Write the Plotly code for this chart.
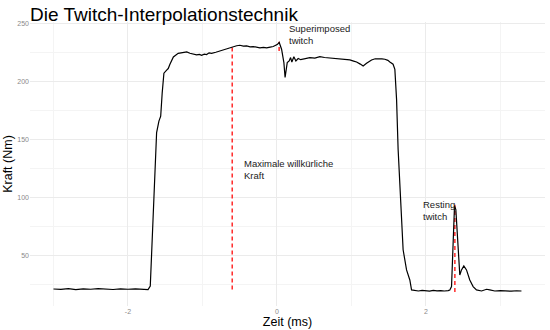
import plotly.graph_objects as go

# Torque trace of a twitch-interpolation trial
time_ms = [
    -3.00, -2.90, -2.80, -2.70, -2.60, -2.50, -2.40, -2.30, -2.20, -2.10,
    -2.00, -1.90, -1.80, -1.73, -1.70, -1.68, -1.66, -1.64, -1.615, -1.584,
    -1.56, -1.54, -1.517, -1.48, -1.459, -1.436, -1.39, -1.325, -1.258, -1.21,
    -1.168, -1.12, -1.078, -1.04, -1.011, -0.975, -0.944, -0.91, -0.877, -0.82,
    -0.765, -0.72, -0.675, -0.63, -0.586, -0.54, -0.497, -0.45, -0.407, -0.36,
    -0.318, -0.27, -0.228, -0.18, -0.138, -0.09, -0.049, 0.004, 0.031, 0.063,
    0.094, 0.110, 0.139, 0.165, 0.184, 0.201, 0.228, 0.255, 0.286, 0.32,
    0.353, 0.40, 0.443, 0.51, 0.577, 0.64, 0.711, 0.78, 0.846, 0.91,
    0.98, 1.03, 1.07, 1.12, 1.158, 1.204, 1.24, 1.271, 1.32, 1.36,
    1.41, 1.45, 1.49, 1.517, 1.56, 1.584, 1.607, 1.628, 1.66, 1.695,
    1.741, 1.785, 1.808, 1.85, 1.90, 1.95, 2.00, 2.05, 2.10, 2.15,
    2.20, 2.25, 2.30, 2.322, 2.345, 2.366, 2.385, 2.403, 2.434, 2.456,
    2.479, 2.51, 2.546, 2.59, 2.635, 2.68, 2.748, 2.79, 2.815, 2.859,
    2.926, 3.00, 3.083, 3.15, 3.22, 3.284,
]
force_nm = [
    21.5, 21.2, 21.8, 21.0, 21.6, 21.3, 21.9, 21.4, 21.1, 21.7,
    21.3, 21.6, 21.2, 21.0, 24.0, 56.0, 85.0, 112.7, 156.0, 165.8,
    170.0, 190.0, 207.0, 209.7, 211.0, 214.7, 221.0, 224.1, 224.7, 225.3,
    224.1, 223.5, 222.7, 223.2, 222.4, 223.4, 223.0, 224.5, 224.1, 225.0,
    226.1, 227.4, 228.2, 229.3, 229.9, 230.6, 231.0, 230.2, 230.4, 229.6,
    229.9, 229.0, 228.7, 229.2, 228.7, 229.4, 229.9, 231.6, 233.4, 227.6,
    216.1, 203.3, 216.1, 217.5, 220.4, 216.6, 221.2, 217.5, 219.6, 218.6,
    219.0, 219.8, 220.4, 220.0, 221.2, 220.5, 220.1, 219.4, 219.6, 218.8,
    218.4, 217.4, 216.6, 214.8, 213.2, 215.5, 217.3, 218.4, 219.4, 219.6,
    219.3, 219.0, 218.0, 216.6, 214.7, 210.3, 184.5, 141.4, 98.3, 55.2,
    37.9, 29.3, 20.7, 20.3, 19.8, 20.4, 20.0, 19.7, 20.3, 19.9,
    20.2, 19.8, 20.1, 20.7, 23.6, 63.8, 93.0, 89.7, 49.4, 33.6,
    37.9, 41.4, 37.9, 29.3, 23.6, 20.7, 19.8, 20.6, 21.3, 20.7,
    19.8, 20.1, 19.8, 19.6, 20.0, 19.8,
]

# Reference markers: time, lower and upper torque
marker_time = [-0.60, 0.03, 2.39]
marker_low = [21.0, 226.0, 19.0]
marker_high = [230.0, 234.0, 94.0]

# Text labels
label_text = ["Superimposed<br>twitch", "Maximale willkürliche<br>Kraft", "Resting<br>twitch"]
label_x = [0.13, -0.47, 1.93]
label_y = [240.0, 124.0, 89.0]

x_ticks = [-2, 0, 2]
y_ticks = [50, 100, 150, 200, 250]

fig = go.Figure()

for t, lo, hi in zip(marker_time, marker_low, marker_high):
    fig.add_trace(go.Scatter(
        x=[t, t], y=[lo, hi], mode="lines",
        line=dict(color="#ff1a1a", width=1.4, dash="4px,3px"),
        hoverinfo="skip", showlegend=False,
    ))

fig.add_trace(go.Scatter(
    x=time_ms, y=force_nm, mode="lines",
    line=dict(color="black", width=1.2),
    showlegend=False,
))

font_family = "Liberation Sans, Arial, sans-serif"

for txt, lx, ly in zip(label_text, label_x, label_y):
    fig.add_annotation(
        x=lx, y=ly, xref="x", yref="y", text=txt, showarrow=False,
        xanchor="left", yanchor="middle", align="left",
        font=dict(family=font_family, size=9.5, color="#1a1a1a"),
    )

fig.update_layout(
    width=550, height=330,
    margin=dict(l=30, r=5, t=22, b=24, autoexpand=False),
    paper_bgcolor="white", plot_bgcolor="white",
    font=dict(family=font_family),
    title=dict(
        text="Die Twitch-Interpolationstechnik",
        x=30 / 550, xanchor="left", xref="container",
        y=1 - 14 / 330, yanchor="middle", yref="container",
        font=dict(family=font_family, size=19, color="black"),
    ),
    xaxis=dict(
        range=[-3.315, 3.6],
        tickvals=x_ticks, ticktext=[str(v) for v in x_ticks],
        showgrid=True, gridcolor="#ebebeb", gridwidth=1,
        minor=dict(dtick=1, tick0=1, showgrid=True, gridcolor="#f4f4f4", gridwidth=0.6),
        zeroline=False, showline=False, ticks="",
        tickfont=dict(size=7, color="#8a8a8a"),
        title=dict(text="Zeit (ms)", font=dict(size=12.5, color="black"), standoff=1),
        automargin=False,
    ),
    yaxis=dict(
        range=[6.9, 251],
        tickvals=y_ticks, ticktext=[str(v) for v in y_ticks],
        showgrid=True, gridcolor="#ebebeb", gridwidth=1,
        minor=dict(dtick=50, tick0=25, showgrid=True, gridcolor="#f4f4f4", gridwidth=0.6),
        zeroline=False, showline=False, ticks="",
        tickfont=dict(size=7, color="#8a8a8a"),
        title=dict(text="Kraft (Nm)", font=dict(size=12.5, color="black"), standoff=1),
        automargin=False,
    ),
)

fig.write_html("out.html")
